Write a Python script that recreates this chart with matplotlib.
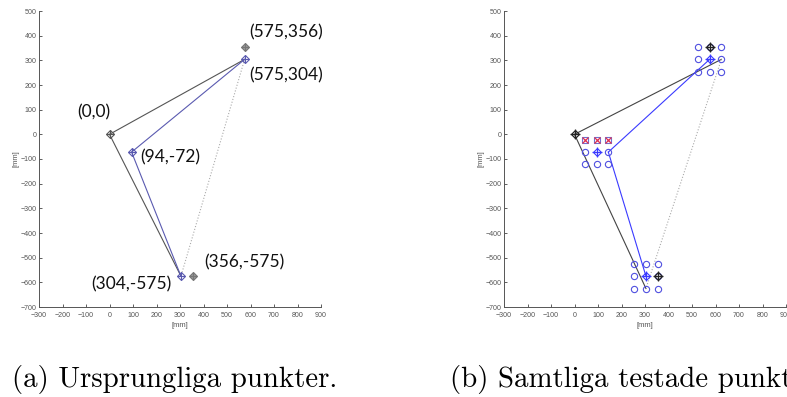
import numpy as np
import matplotlib.pyplot as plt

# panel (a): original points
pts_x = [0, 94, 575, 304]
pts_y = [0, -72, 304, -575]
grey_x = [575, 356]
grey_y = [356, -575]
lab_x = [0, 575, 575, 94, 356, 304]
lab_y = [0, 356, 304, -72, -575, -575]
labels = ["(0,0)", "(575,356)", "(575,304)", "(94,-72)", "(356,-575)", "(304,-575)"]

# panel (b): all tested points
circ_x = [525, 575, 625, 525, 625, 525, 575, 625,
          44, 144, 44, 94, 144,
          254, 304, 354, 254, 354, 254, 304, 354]
circ_y = [354, 354, 354, 304, 304, 254, 254, 254,
          -72, -72, -122, -122, -122,
          -525, -525, -525, -575, -575, -625, -625, -625]
bad_x = [44, 94, 144]
bad_y = [-22, -22, -22]
blue_x = [144, 575, 304]
blue_y = [-72, 304, -575]
best_x = [94]
best_y = [-72]
blk_x = [0, 575, 356]
blk_y = [0, 356, -575]

xticks = np.arange(-300, 901, 100)
yticks = np.arange(-700, 501, 100)

fig = plt.figure(figsize=(7.87, 3.97), dpi=100)
ax1 = fig.add_axes([39/787, 1-307/397, 282/787, 296/397])
ax2 = fig.add_axes([504/787, 1-307/397, 282/787, 296/397])

for ax in (ax1, ax2):
    ax.set_xlim(-300, 900)
    ax.set_ylim(-700, 500)
    ax.set_xticks(xticks)
    ax.set_yticks(yticks)
    ax.tick_params(direction='in', length=2.5, width=0.6, labelsize=5.1,
                   colors='#444444', labelcolor='#555555', pad=1.5)
    ax.tick_params(axis='x', pad=3.5)
    for s in ['top', 'right']:
        ax.spines[s].set_visible(False)
    for s in ['left', 'bottom']:
        ax.spines[s].set_color('#555555')
        ax.spines[s].set_linewidth(0.7)
    ax.set_xlabel('[mm]', fontsize=5.5, color='#555555', labelpad=2, family='Liberation Sans')
    ax.set_ylabel('[mm]', fontsize=5.5, color='#555555', labelpad=1, family='Liberation Sans')
    for t in ax.get_xticklabels() + ax.get_yticklabels():
        t.set_family('Liberation Sans')

# ---- panel (a)
ax1.plot([pts_x[0], pts_x[2]], [pts_y[0], pts_y[2]], color='#555555', lw=0.8)
ax1.plot([pts_x[0], pts_x[3]], [pts_y[0], pts_y[3]], color='#555555', lw=0.8)
ax1.plot([pts_x[1], pts_x[2]], [pts_y[1], pts_y[2]], color='#5a5ab0', lw=0.8)
ax1.plot([pts_x[1], pts_x[3]], [pts_y[1], pts_y[3]], color='#5a5ab0', lw=0.8)
ax1.plot([pts_x[2], pts_x[3]], [pts_y[2], pts_y[3]], color='#aaaaaa', lw=0.8, ls=':')
ax1.plot(pts_x[:1], pts_y[:1], 'D', ms=4, mfc='none', mec='#555555', mew=0.8)
ax1.plot(pts_x[:1], pts_y[:1], '+', ms=6, mec='#555555', mew=0.8)
ax1.plot(pts_x[1:], pts_y[1:], 'D', ms=4, mfc='none', mec='#5a5ab0', mew=0.8)
ax1.plot(pts_x[1:], pts_y[1:], '+', ms=6, mec='#5a5ab0', mew=0.8)
ax1.plot(grey_x, grey_y, 'D', ms=4, mfc='#999999', mec='#777777', mew=0.8)
ax1.plot(grey_x, grey_y, '+', ms=6, mec='#777777', mew=0.8)

offsets = [(-16, 22), (42, 14), (41, -16), (39, -5), (51, 14), (-50, -8)]
for x, y, s, off in zip(lab_x, lab_y, labels, offsets):
    ax1.annotate(s, (x, y), xytext=off, textcoords='offset pixels', ha='center', va='center',
                 fontsize=12.5, family='Lato', color='#111111')

# ---- panel (b)
ax2.plot([0, circ_x[4]], [0, circ_y[4]], color='#444444', lw=0.8)
ax2.plot([0, circ_x[19]], [0, circ_y[19]], color='#444444', lw=0.8)
ax2.plot([blue_x[0], blue_x[1]], [blue_y[0], blue_y[1]], color='#3a3aff', lw=0.8)
ax2.plot([blue_x[0], blue_x[2]], [blue_y[0], blue_y[2]], color='#3a3aff', lw=0.8)
ax2.plot([circ_x[4], circ_x[19]], [circ_y[4], circ_y[19]], color='#aaaaaa', lw=0.8, ls=':')
ax2.plot(circ_x, circ_y, 'o', ms=4.5, mfc='none', mec='#5050e0', mew=0.8)
ax2.plot(bad_x, bad_y, 's', ms=4.5, mfc='none', mec='#7070d0', mew=0.8)
ax2.plot(bad_x, bad_y, 'x', ms=4, mec='#e03050', mew=0.9)
ax2.plot(best_x + blue_x[1:], best_y + blue_y[1:], 'D', ms=4, mfc='none', mec='#3a3aff', mew=0.8)
ax2.plot(best_x + blue_x[1:], best_y + blue_y[1:], '+', ms=6.5, mec='#3a3aff', mew=0.9)
ax2.plot(blk_x, blk_y, 'D', ms=4, mfc='none', mec='#222222', mew=0.9)
ax2.plot(blk_x, blk_y, '+', ms=6.5, mec='#222222', mew=0.9)

fig.text(12/787, 1-380/397, '(a) Ursprungliga punkter.', family='cmr10', fontsize=20.8,
         ha='left', va='center')
fig.text(450/787, 1-380/397, '(b) Samtliga testade punkter.', family='cmr10', fontsize=20.8,
         ha='left', va='center')

fig.savefig('out.png', dpi=100)
